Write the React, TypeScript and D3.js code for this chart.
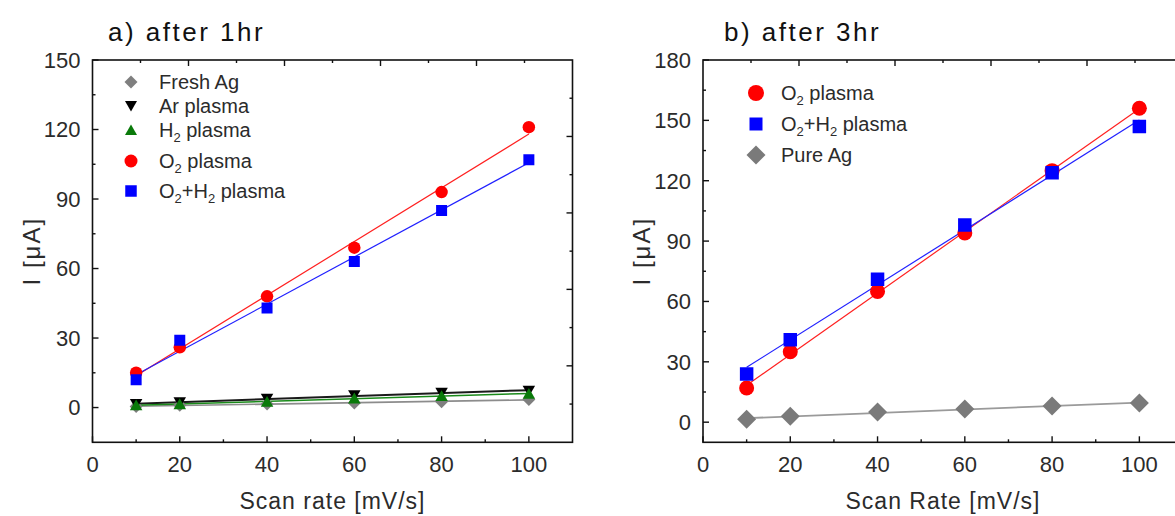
import React from "react";
import * as d3 from "d3";

// Scan rates shared by every series (mV/s)
const scanRates = [10, 20, 40, 60, 80, 100];

// a) after 1 hr, current in µA
const freshAg1h = [0.5, 1, 1.5, 2, 2.5, 3.5];
const arPlasma1h = [1.5, 2.2, 3.8, 5.3, 6.3, 7.2];
const h2Plasma1h = [1, 1.5, 2.5, 4, 5, 6];
const o2Plasma1h = [15, 26, 48, 69, 93, 121];
const o2h2Plasma1h = [12, 29, 43, 63, 85, 107];

// b) after 3 hr, current in µA
const o2Plasma3h = [17, 35, 65, 94, 125, 156];
const o2h2Plasma3h = [24, 41, 71, 98, 124, 147];
const pureAg3h = [1.5, 3, 5, 6.5, 8, 9.5];

// Axis ticks
const xMajorTicks = [0, 20, 40, 60, 80, 100];
const xMinorTicks = [10, 30, 50, 70, 90];
const yMajorTicks1h = [0, 30, 60, 90, 120, 150];
const yMinorTicks1h = [15, 45, 75, 105, 135];
const yMajorTicks3h = [0, 30, 60, 90, 120, 150, 180];
const yMinorTicks3h = [15, 45, 75, 105, 135, 165];
// mirrored (unlinked) top / right axes run 0..100
const mirrorMajor = [20, 40, 60, 80];
const mirrorMinor = [10, 30, 50, 70, 90];

const FONT = "'Liberation Sans', Arial, Helvetica, sans-serif";
const TEXT = "#2b2b2b";

type Marker = "circle" | "square" | "diamond" | "triUp" | "triDown";

interface Series {
  label: string[];
  values: number[];
  color: string;
  lineColor: string;
  lineWidth: number;
  marker: Marker;
  size: number;
  legendSize: number;
}

function linearFit(xs: number[], ys: number[]) {
  const mx = d3.mean(xs) as number;
  const my = d3.mean(ys) as number;
  let sxy = 0;
  let sxx = 0;
  xs.forEach((x, i) => {
    sxy += (x - mx) * (ys[i] - my);
    sxx += (x - mx) * (x - mx);
  });
  const slope = sxy / sxx;
  return { slope, intercept: my - slope * mx };
}

function markerPath(kind: Marker, size: number) {
  switch (kind) {
    case "circle":
      return d3.symbol(d3.symbolCircle, Math.PI * (size / 2) ** 2)() as string;
    case "square":
      return d3.symbol(d3.symbolSquare, size * size)() as string;
    case "diamond":
      return d3.symbol(d3.symbolSquare, (size * size) / 2)() as string;
    default:
      return d3.symbol(d3.symbolTriangle, (Math.sqrt(3) / 4) * size * size)() as string;
  }
}

function markerRotation(kind: Marker) {
  if (kind === "diamond") return 45;
  if (kind === "triDown") return 180;
  return 0;
}

function MarkerShape({ kind, size, color, x, y }: { kind: Marker; size: number; color: string; x: number; y: number }) {
  const dy = kind === "triUp" ? size * 0.12 : kind === "triDown" ? -size * 0.12 : 0;
  return (
    <path
      d={markerPath(kind, size)}
      transform={`translate(${x},${y + dy}) rotate(${markerRotation(kind)})`}
      fill={color}
    />
  );
}

// Legend label: parts alternate normal text / subscript
function LegendText({ parts, x, y }: { parts: string[]; x: number; y: number }) {
  const baseline = y + 7;
  return (
    <text x={x} y={baseline} fontFamily={FONT} fontSize={20} fill={TEXT}>
      {parts.map((p, i) => {
        const sub = i % 2 === 1;
        if (i === 0) return <tspan key={i}>{p}</tspan>;
        return (
          <tspan key={i} fontSize={sub ? 13 : 20} dy={sub ? 5 : -5}>
            {p}
          </tspan>
        );
      })}
    </text>
  );
}

interface PanelProps {
  x0: number;
  x1: number;
  y0: number;
  y1: number;
  yDomain: [number, number];
  yMajor: number[];
  yMinor: number[];
  title: string;
  titleX: number;
  xLabel: string;
  yLabelX: number;
  series: Series[];
  legendX: number;
  legendTextX: number;
  legendRows: number[];
}

function Panel(p: PanelProps) {
  const x = d3.scaleLinear().domain([0, 110]).range([p.x0, p.x1]);
  const y = d3.scaleLinear().domain(p.yDomain).range([p.y1, p.y0]);
  const xTop = d3.scaleLinear().domain([0, 100]).range([p.x0, p.x1]);
  const yRight = d3.scaleLinear().domain([0, 100]).range([p.y1, p.y0]);
  const line = d3
    .line<[number, number]>()
    .x((d) => x(d[0]))
    .y((d) => y(d[1]));
  const major = 6;
  const minor = 3;
  const clipId = `clip-${Math.round(p.x0)}`;
  const first = scanRates[0];
  const last = scanRates[scanRates.length - 1];

  return (
    <g>
      <defs>
        <clipPath id={clipId}>
          <rect x={p.x0} y={p.y0} width={p.x1 - p.x0} height={p.y1 - p.y0} />
        </clipPath>
      </defs>

      <g clipPath={`url(#${clipId})`}>
        {/* linear fit lines */}
        {p.series.map((s, i) => {
          const f = linearFit(scanRates, s.values);
          const pts: [number, number][] = [
            [first, f.intercept + f.slope * first],
            [last, f.intercept + f.slope * last],
          ];
          return (
            <path key={i} d={line(pts) as string} fill="none" stroke={s.lineColor} strokeWidth={s.lineWidth} />
          );
        })}
        {/* data markers */}
        {p.series.map((s, i) => (
          <g key={i}>
            {s.values.map((v, j) => (
              <MarkerShape key={j} kind={s.marker} size={s.size} color={s.color} x={x(scanRates[j])} y={y(v)} />
            ))}
          </g>
        ))}
      </g>

      {/* frame */}
      <rect x={p.x0} y={p.y0} width={p.x1 - p.x0} height={p.y1 - p.y0} fill="none" stroke="#111" strokeWidth={1.6} />

      {/* bottom ticks (inward) */}
      {xMajorTicks.map((t) => (
        <line key={`bx${t}`} x1={x(t)} x2={x(t)} y1={p.y1} y2={p.y1 - major} stroke="#111" strokeWidth={1.4} />
      ))}
      {xMinorTicks.map((t) => (
        <line key={`bn${t}`} x1={x(t)} x2={x(t)} y1={p.y1} y2={p.y1 - minor} stroke="#111" strokeWidth={1.4} />
      ))}
      {/* top ticks */}
      {mirrorMajor.map((t) => (
        <line key={`tx${t}`} x1={xTop(t)} x2={xTop(t)} y1={p.y0} y2={p.y0 + major} stroke="#111" strokeWidth={1.4} />
      ))}
      {mirrorMinor.map((t) => (
        <line key={`tn${t}`} x1={xTop(t)} x2={xTop(t)} y1={p.y0} y2={p.y0 + minor} stroke="#111" strokeWidth={1.4} />
      ))}
      {/* left ticks */}
      {p.yMajor.map((t) => (
        <line key={`ly${t}`} x1={p.x0} x2={p.x0 + major} y1={y(t)} y2={y(t)} stroke="#111" strokeWidth={1.4} />
      ))}
      {p.yMinor.map((t) => (
        <line key={`ln${t}`} x1={p.x0} x2={p.x0 + minor} y1={y(t)} y2={y(t)} stroke="#111" strokeWidth={1.4} />
      ))}
      {/* right ticks */}
      {mirrorMajor.map((t) => (
        <line key={`ry${t}`} x1={p.x1} x2={p.x1 - major} y1={yRight(t)} y2={yRight(t)} stroke="#111" strokeWidth={1.4} />
      ))}
      {mirrorMinor.map((t) => (
        <line key={`rn${t}`} x1={p.x1} x2={p.x1 - minor} y1={yRight(t)} y2={yRight(t)} stroke="#111" strokeWidth={1.4} />
      ))}

      {/* tick labels */}
      {xMajorTicks.map((t) => (
        <text key={`xl${t}`} x={x(t)} y={p.y1 + 30} textAnchor="middle" fontFamily={FONT} fontSize={22} fill={TEXT}>
          {t}
        </text>
      ))}
      {p.yMajor.map((t) => (
        <text
          key={`yl${t}`}
          x={p.x0 - 12}
          y={y(t)}
          dy="0.36em"
          textAnchor="end"
          fontFamily={FONT}
          fontSize={22}
          fill={TEXT}
        >
          {t}
        </text>
      ))}

      {/* axis titles */}
      <text
        x={(p.x0 + p.x1) / 2}
        y={p.y1 + 67}
        textAnchor="middle"
        fontFamily={FONT}
        fontSize={23}
        letterSpacing={1}
        fill={TEXT}
      >
        {p.xLabel}
      </text>
      <text
        transform={`translate(${p.yLabelX},${(p.y0 + p.y1) / 2}) rotate(-90)`}
        textAnchor="middle"
        fontFamily={FONT}
        fontSize={24}
        letterSpacing={2}
        fill={TEXT}
      >
        I [μA]
      </text>

      {/* panel title */}
      <text x={p.titleX} y={41} fontFamily={FONT} fontSize={26} letterSpacing={2.5} fill="#111">
        {p.title}
      </text>

      {/* legend */}
      {p.series.map((s, i) => (
        <g key={`lg${i}`}>
          <MarkerShape kind={s.marker} size={s.legendSize} color={s.color} x={p.legendX} y={p.legendRows[i]} />
          <LegendText parts={s.label} x={p.legendTextX} y={p.legendRows[i]} />
        </g>
      ))}
    </g>
  );
}

const series1h: Series[] = [
  { label: ["Fresh Ag"], values: freshAg1h, color: "#7f7f7f", lineColor: "#8c8c8c", lineWidth: 1.6, marker: "diamond", size: 13, legendSize: 13 },
  { label: ["Ar plasma"], values: arPlasma1h, color: "#000000", lineColor: "#1a1a1a", lineWidth: 2, marker: "triDown", size: 12.5, legendSize: 12 },
  { label: ["H", "2", " plasma"], values: h2Plasma1h, color: "#0a7a0a", lineColor: "#1a8a1a", lineWidth: 1.6, marker: "triUp", size: 12.5, legendSize: 12 },
  { label: ["O", "2", " plasma"], values: o2Plasma1h, color: "#ff0000", lineColor: "#ff2020", lineWidth: 1.2, marker: "circle", size: 12.5, legendSize: 13 },
  { label: ["O", "2", "+H", "2", " plasma"], values: o2h2Plasma1h, color: "#0000ff", lineColor: "#2020ff", lineWidth: 1.2, marker: "square", size: 11, legendSize: 11.5 },
];

const series3h: Series[] = [
  { label: ["O", "2", " plasma"], values: o2Plasma3h, color: "#ff0000", lineColor: "#ff2020", lineWidth: 1.2, marker: "circle", size: 15, legendSize: 16 },
  { label: ["O", "2", "+H", "2", " plasma"], values: o2h2Plasma3h, color: "#0000ff", lineColor: "#2020ff", lineWidth: 1.2, marker: "square", size: 13.5, legendSize: 13 },
  { label: ["Pure Ag"], values: pureAg3h, color: "#7a7a7a", lineColor: "#9a9a9a", lineWidth: 1.8, marker: "diamond", size: 19, legendSize: 19 },
];

export default function App() {
  return (
    <svg
      width={1175}
      height={516}
      viewBox="0 0 1175 516"
      style={{ position: "absolute", left: 0, top: 0, background: "#ffffff" }}
    >
      <rect width={1175} height={516} fill="#ffffff" />
      <Panel
        x0={92.5}
        x1={572.5}
        y0={60}
        y1={442.3}
        yDomain={[-15, 150]}
        yMajor={yMajorTicks1h}
        yMinor={yMinorTicks1h}
        title="a) after 1hr"
        titleX={108}
        xLabel="Scan rate [mV/s]"
        yLabelX={40}
        series={series1h}
        legendX={131}
        legendTextX={159}
        legendRows={[82, 106, 130, 161, 191]}
      />
      <Panel
        x0={703}
        x1={1183}
        y0={60}
        y1={442.3}
        yDomain={[-10, 180]}
        yMajor={yMajorTicks3h}
        yMinor={yMinorTicks3h}
        title="b) after 3hr"
        titleX={724}
        xLabel="Scan Rate [mV/s]"
        yLabelX={650}
        series={series3h}
        legendX={756}
        legendTextX={781}
        legendRows={[93, 124, 155]}
      />
    </svg>
  );
}
